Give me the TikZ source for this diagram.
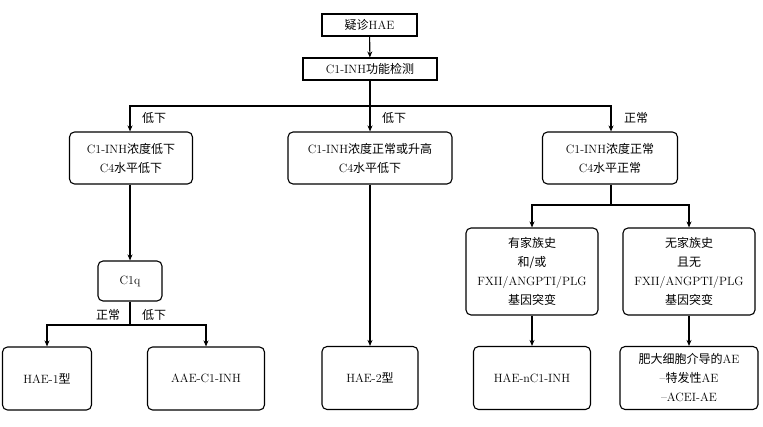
\documentclass[tikz,border=0pt]{standalone}
\usepackage{fontspec}
\newfontfamily\cjk{Noto Sans CJK SC}
\newcommand\zh[1]{{\cjk #1}}
\usetikzlibrary{arrows.meta}
\begin{document}
\begin{tikzpicture}[x=1pt,y=-1pt,
  every node/.style={font=\fontsize{12}{19}\selectfont},
  sq/.style={draw,line width=1.1pt,align=center,inner sep=0pt},
  rd/.style={draw,line width=1.1pt,align=center,inner sep=0pt,rounded corners=5pt},
  arr/.style={line width=1.1pt,-{Stealth[length=6pt,width=5pt]}},
  ln/.style={line width=1.1pt},
  lab/.style={inner sep=0pt}]
\useasboundingbox (0,0) rectangle (763,427);
\node[sq,minimum width=95,minimum height=22] (top) at (369.5,25) {\zh{疑诊}HAE};
\node[sq,minimum width=134,minimum height=22] (check) at (370,69) {C1-INH\zh{功能检测}};
\node[rd,minimum width=123,minimum height=52] (b1) at (131,158) {C1-INH\zh{浓度低下}\\C4\zh{水平低下}};
\node[rd,minimum width=164,minimum height=52] (b2) at (370,158) {C1-INH\zh{浓度正常或升高}\\C4\zh{水平低下}};
\node[rd,minimum width=135,minimum height=52] (b3) at (610,158) {C1-INH\zh{浓度正常}\\C4\zh{水平正常}};
\node[rd,minimum width=64,minimum height=40] (c1q) at (130,281) {C1q};
\node[rd,minimum width=89,minimum height=63] (h1) at (47,378.5) {HAE-1\zh{型}};
\node[rd,minimum width=117,minimum height=63] (aae) at (206,378.5) {AAE-C1-INH};
\node[rd,minimum width=96,minimum height=63] (h2) at (370,378) {HAE-2\zh{型}};
\node[rd,minimum width=132,minimum height=87] (fam) at (532,271.5) {\zh{有家族史}\\\zh{和/或}\\FXII/ANGPTI/PLG\\\zh{基因突变}};
\node[rd,minimum width=132,minimum height=87] (nofam) at (689,271.5) {\zh{无家族史}\\\zh{且无}\\FXII/ANGPTI/PLG\\\zh{基因突变}};
\node[rd,minimum width=117,minimum height=63] (hn) at (532,378) {HAE-nC1-INH};
\node[rd,minimum width=138,minimum height=63] (mast) at (689,378) {\zh{肥大细胞介导的}AE\\–\zh{特发性}AE\\–ACEI-AE};
\coordinate (s1) at (370,106);
\coordinate (s2) at (130,325);
\coordinate (s3) at (610,205);
\draw[arr] (top) -- (check);
\draw[arr] (check) -- (b2);
\draw[arr] (s1) -| (b1.north -| 130,0);
\draw[arr] (s1) -| (b3.north -| 611,0);
\draw[arr] (b1.south -| 130,0) -- (c1q);
\draw[ln] (c1q) -- (s2);
\draw[arr] (s2) -| (h1);
\draw[arr] (s2) -| (aae);
\draw[arr] (b2) -- (h2);
\draw[ln] (b3.south -| 611,0) -- (s3 -| 611,0);
\draw[arr] (s3 -| 611,0) -| (fam);
\draw[arr] (s3 -| 611,0) -| (nofam);
\draw[arr] (fam) -- (hn);
\draw[arr] (nofam) -- (mast);
\node[lab] (l1) at (154,118) {\zh{低下}};
\node[lab] (l2) at (394,118) {\zh{低下}};
\node[lab] (l3) at (636,118) {\zh{正常}};
\node[lab] (l4) at (108,315) {\zh{正常}};
\node[lab] (l5) at (154,315) {\zh{低下}};
\end{tikzpicture}
\end{document}
